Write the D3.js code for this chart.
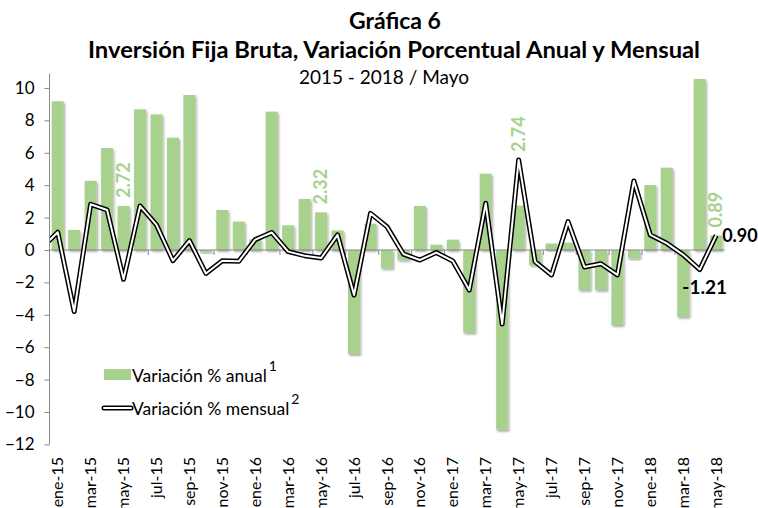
<!DOCTYPE html>
<html>
<head>
<meta charset="utf-8">
<script src="https://cdn.jsdelivr.net/npm/d3@7"></script>
<style>
  body { margin: 0; background: #fff; }
  svg { display: block; font-family: Lato, "Open Sans", sans-serif; }
</style>
</head>
<body>
<div id="chart"></div>
<script>
// Categories (ene-15 .. may-18)
var meses = ["ene-15","feb-15","mar-15","abr-15","may-15","jun-15","jul-15","ago-15","sep-15","oct-15","nov-15","dic-15",
             "ene-16","feb-16","mar-16","abr-16","may-16","jun-16","jul-16","ago-16","sep-16","oct-16","nov-16","dic-16",
             "ene-17","feb-17","mar-17","abr-17","may-17","jun-17","jul-17","ago-17","sep-17","oct-17","nov-17","dic-17",
             "ene-18","feb-18","mar-18","abr-18","may-18"];

// Variación % anual (bars)
var anual = [9.18, 1.24, 4.27, 6.29, 2.72, 8.68, 8.37, 6.93, 9.57, -0.15, 2.47, 1.75,
             0.66, 8.54, 1.52, 3.15, 2.32, 1.21, -6.42, 1.62, -1.13, -0.62, 2.72, 0.33,
             0.64, -5.10, 4.71, -11.1, 2.74, -0.93, 0.40, 0.45, -2.47, -2.47, -4.63, -0.51,
             4.01, 5.08, -4.12, 10.56, 0.89];

// Variación % mensual (line)
var mensual = [1.10, -3.80, 2.82, 2.47, -1.81, 2.72, 1.55, -0.66, 0.58, -1.45, -0.66, -0.70,
               0.64, 1.08, -0.10, -0.35, -0.50, 0.93, -2.78, 2.26, 1.44, -0.25, -0.62, -0.16,
               -0.68, -2.47, 2.88, -4.57, 5.56, -0.72, -1.54, 1.75, -1.05, -0.85, -1.54, 4.26,
               0.93, 0.41, -0.30, -1.21, 0.90];
var mensualPrevio = 0.1; // dic-14, only the lead-in segment shows

var yTicks = [-12, -10, -8, -6, -4, -2, 0, 2, 4, 6, 8, 10];
var etiquetasAnual = ["may-15", "may-16", "may-17", "may-18"];
var etiquetasMensual = ["abr-18", "may-18"];

var W = 758, H = 508;
var GREEN = "#a9d18e";
var AXIS = "#898989";

var svg = d3.select("#chart").append("svg")
    .attr("width", W).attr("height", H);

var defs = svg.append("defs");
var shadow = defs.append("filter").attr("id", "sombra")
    .attr("x", "-30%").attr("y", "-30%").attr("width", "160%").attr("height", "160%");
shadow.append("feDropShadow")
    .attr("dx", 1.2).attr("dy", 1.8).attr("stdDeviation", 1.1)
    .attr("flood-color", "#000").attr("flood-opacity", 0.35);
defs.append("clipPath").attr("id", "plotClip")
    .append("rect").attr("x", 50).attr("y", 0).attr("width", W).attr("height", H);

var x = d3.scaleBand().domain(meses).range([49.5, 724.4])
    .paddingInner(0.27).paddingOuter(0.135);
var y = d3.scaleLinear().domain([-12, 10.9]).range([444.4, 73.4]);
var cx = function(m) { return x(m) + x.bandwidth() / 2; };

// titles
svg.append("text").attr("x", 395).attr("y", 29).attr("text-anchor", "middle")
    .attr("font-weight", "bold").attr("font-size", 23).attr("fill", "#000").text("Gráfica 6");
svg.append("text").attr("x", 394).attr("y", 58).attr("text-anchor", "middle")
    .attr("font-weight", "bold").attr("font-size", 23).attr("fill", "#000")
    .attr("textLength", 612).attr("lengthAdjust", "spacingAndGlyphs")
    .text("Inversión Fija Bruta, Variación Porcentual Anual y Mensual");
svg.append("text").attr("x", 384).attr("y", 84).attr("text-anchor", "middle")
    .attr("font-size", 19).attr("fill", "#000").text("2015 - 2018 / Mayo");

// bars
svg.append("g").selectAll("rect")
    .data(meses)
    .enter().append("rect")
    .attr("x", function(m) { return x(m); })
    .attr("width", x.bandwidth())
    .attr("y", function(m, i) { return y(Math.max(0, anual[i])); })
    .attr("height", function(m, i) { return Math.abs(y(anual[i]) - y(0)); })
    .attr("fill", GREEN)
    .attr("filter", "url(#sombra)");

// y axis
var yAxis = d3.axisLeft(y).tickValues(yTicks).tickSize(5).tickPadding(10)
    .tickFormat(d3.format("d"));
var gy = svg.append("g").attr("transform", "translate(49.5,0)").call(yAxis);
gy.select(".domain").attr("stroke", AXIS).attr("d", "M0," + y(-12) + "V" + y(10.9));
gy.selectAll(".tick line").attr("stroke", AXIS);
gy.selectAll(".tick text").attr("font-size", 17).attr("fill", "#000")
    .attr("font-family", "Lato, sans-serif");

// x axis line at zero with ticks every 2 categories
svg.append("line").attr("x1", 49.5).attr("x2", 724.4)
    .attr("y1", y(0)).attr("y2", y(0)).attr("stroke", AXIS).attr("stroke-width", 1);
svg.append("g").selectAll("line")
    .data(meses.filter(function(m, i) { return i % 2 === 0 && i > 0; }))
    .enter().append("line")
    .attr("x1", function(m) { return x(m) - x.step() * x.paddingInner() / 2; })
    .attr("x2", function(m) { return x(m) - x.step() * x.paddingInner() / 2; })
    .attr("y1", y(0)).attr("y2", y(0) + 5)
    .attr("stroke", AXIS);

// x labels at bottom
svg.append("g").selectAll("text")
    .data(meses.filter(function(m, i) { return i % 2 === 0; }))
    .enter().append("text")
    .attr("transform", function(m) { return "translate(" + cx(m) + ",457) rotate(-90)"; })
    .attr("text-anchor", "end").attr("dy", "0.35em")
    .attr("font-size", 16).attr("fill", "#000")
    .text(function(m) { return m; });

// monthly line: black outline, white core
var puntos = [[x(meses[0]) + x.bandwidth() / 2 - x.step(), mensualPrevio]]
    .concat(meses.map(function(m, i) { return [cx(m), mensual[i]]; }));
var linea = d3.line().x(function(d) { return d[0]; }).y(function(d) { return y(d[1]); });
var gl = svg.append("g").attr("clip-path", "url(#plotClip)");
gl.append("path").attr("d", linea(puntos)).attr("fill", "none")
    .attr("stroke", "#000").attr("stroke-width", 5).attr("stroke-linejoin", "round");
gl.append("path").attr("d", linea(puntos)).attr("fill", "none")
    .attr("stroke", "#fff").attr("stroke-width", 2).attr("stroke-linejoin", "round");

// annual labels (rotated, green)
svg.append("g").selectAll("text")
    .data(etiquetasAnual)
    .enter().append("text")
    .attr("transform", function(m) {
        var i = meses.indexOf(m);
        var top = y(Math.max(anual[i], mensual[i])) - 8;
        return "translate(" + cx(m) + "," + top + ") rotate(-90)";
    })
    .attr("dy", "0.35em")
    .attr("font-size", 18).attr("font-weight", "bold").attr("fill", GREEN)
    .text(function(m) { return anual[meses.indexOf(m)].toFixed(2); });

// monthly labels
var iAbr = meses.indexOf(etiquetasMensual[0]);
svg.append("text").attr("x", cx(etiquetasMensual[0]) + 5).attr("y", y(mensual[iAbr]) + 24)
    .attr("text-anchor", "middle").attr("font-size", 19).attr("font-weight", "bold")
    .text(mensual[iAbr].toFixed(2));
var iMay = meses.indexOf(etiquetasMensual[1]);
svg.append("text").attr("x", cx(etiquetasMensual[1]) + 6).attr("y", y(mensual[iMay]))
    .attr("dy", "0.35em").attr("font-size", 18).attr("font-weight", "bold")
    .text(mensual[iMay].toFixed(2));

// legend
var lg = svg.append("g");
lg.append("rect").attr("x", 104).attr("y", 369).attr("width", 27).attr("height", 11).attr("fill", GREEN);
var t1 = lg.append("text").attr("x", 132).attr("y", 382).attr("font-size", 17.5);
t1.append("tspan").text("Variación % anual");
t1.append("tspan").attr("dy", -11).attr("dx", 2).attr("font-size", 14).text("1");
lg.append("line").attr("x1", 104).attr("x2", 131).attr("y1", 408).attr("y2", 408)
    .attr("stroke", "#000").attr("stroke-width", 5).attr("stroke-linecap", "round");
lg.append("line").attr("x1", 104).attr("x2", 131).attr("y1", 408).attr("y2", 408)
    .attr("stroke", "#fff").attr("stroke-width", 2).attr("stroke-linecap", "round");
var t2 = lg.append("text").attr("x", 132).attr("y", 415).attr("font-size", 17.5);
t2.append("tspan").text("Variación % mensual");
t2.append("tspan").attr("dy", -11).attr("dx", 2).attr("font-size", 14).text("2");
</script>
</body>
</html>
